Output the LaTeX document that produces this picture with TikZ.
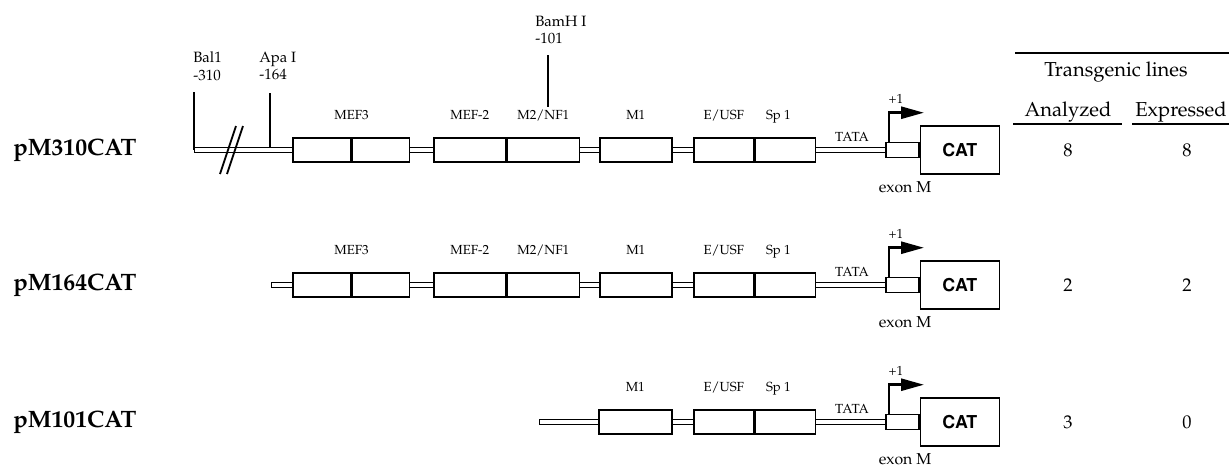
\documentclass[tikz,border=0pt]{standalone}
\usepackage[T1]{fontenc}
\usepackage{mathpazo}
\usepackage[scaled=0.92]{helvet}
\usetikzlibrary{arrows.meta,positioning}

\tikzset{
  site/.style={draw, fill=white, line width=0.9pt, anchor=west, inner sep=0pt,
    minimum height=0.48cm, minimum width=#1},
  exonbox/.style={draw, fill=white, line width=0.9pt, anchor=west, inner sep=0pt,
    minimum height=0.3cm, minimum width=0.66cm},
  catbox/.style={draw, fill=white, line width=0.9pt, anchor=west, inner sep=0pt,
    minimum height=0.96cm, minimum width=1.58cm,
    font=\fontsize{11}{12}\selectfont\sffamily\bfseries},
  strand/.style={draw, fill=white, line width=0.55pt},
  cut/.style={line width=1pt},
  rule/.style={line width=0.8pt},
  sitename/.style={font=\fontsize{7.5}{8}\selectfont, inner sep=0pt,
    text height=1.6ex, text depth=0.4ex},
  note/.style={font=\fontsize{9}{10}\selectfont, inner sep=0pt},
  enzyme/.style={font=\fontsize{8.5}{10}\selectfont, align=left, anchor=west, inner sep=0pt},
  construct/.style={font=\fontsize{13.5}{15}\selectfont\bfseries, anchor=west, inner sep=0pt},
  tablehead/.style={font=\fontsize{11.5}{13}\selectfont, inner sep=0pt},
  count/.style={font=\fontsize{10.5}{12}\selectfont, inner sep=0pt},
  tss/.style={line width=1.5pt, -{Triangle[length=0.46cm,width=0.24cm]}},
}

\begin{document}
\begin{tikzpicture}[x=0.02cm, y=-0.02cm]
  \useasboundingbox (0,0) rectangle (1229,467);

  %% constructs: strand, promoter, exon and reporter
  \foreach \k/\y/\sx/\bp/\na/\ne in {1/150/194/310/8/8, 2/285/271/164/2/2, 3/422/539/101/3/0}{
    \node[construct] (name\k) at (13,\y) {pM\bp CAT};
    \coordinate (s\k) at (\sx,\y);
    \coordinate (e\k) at (885,\y);
    \draw[strand] ([yshift=0.05cm]s\k) rectangle ([yshift=-0.05cm]e\k);
    \node[exonbox] (exon\k) at (e\k) {};
    \node[catbox] (cat\k) at (exon\k.east) {CAT};
    \node[sitename] (tata\k) at (852,\y-13) {TATA};
    \node[sitename] (plus\k) at (896,\y-51) {+1};
    \node[note] (exname\k) at (905,\y+37) {exon M};
    \draw[tss] ([xshift=0.08cm]exon\k.north west) -- ++(0,-29) -- ++(35,0);
    \node[count] (an\k) at (1068,\y) {\na};
    \node[count] (ex\k) at (1187,\y) {\ne};
  }

  %% binding sites, pM310CAT
  \node[site=1.16cm] (mefa1) at (292,150) {};
  \node[site=1.14cm] (mefb1) at (mefa1.east) {};
  \node[site=1.44cm] (mef21) at (433,150) {};
  \node[site=1.44cm] (nf11) at (mef21.east) {};
  \node[site=1.44cm] (m11) at (599,150) {};
  \node[site=1.2cm] (usf1) at (693,150) {};
  \node[site=1.2cm] (sp11) at (usf1.east) {};

  %% binding sites, pM164CAT
  \node[site=1.16cm] (mefa2) at (292,285) {};
  \node[site=1.14cm] (mefb2) at (mefa2.east) {};
  \node[site=1.44cm] (mef22) at (433,285) {};
  \node[site=1.44cm] (nf12) at (mef22.east) {};
  \node[site=1.44cm] (m12) at (599,285) {};
  \node[site=1.2cm] (usf2) at (693,285) {};
  \node[site=1.2cm] (sp12) at (usf2.east) {};

  %% binding sites, pM101CAT
  \node[site=1.46cm] (m13) at (598,422) {};
  \node[site=1.2cm] (usf3) at (693,422) {};
  \node[site=1.2cm] (sp13) at (usf3.east) {};

  %% site names
  \foreach \k in {1,2}{
    \node[sitename, above=0.28cm of mefa\k.north east] {MEF3};
    \node[sitename, above=0.28cm of mef2\k] {MEF-2};
    \node[sitename, above=0.28cm of nf1\k] {M2/NF1};
  }
  \foreach \k in {1,2,3}{
    \node[sitename, above=0.28cm of m1\k] {M1};
    \node[sitename, above=0.28cm of usf\k] {E/USF};
    \node[sitename, above=0.28cm of sp1\k, xshift=-0.14cm] {Sp 1};
  }

  %% restriction sites
  \node[enzyme] (bal) at (193,66) {Bal1\\-310};
  \node[enzyme] (apa) at (259,66) {Apa I\\-164};
  \node[enzyme] (bam) at (535,30) {BamH I\\-101};
  \coordinate (balcut) at (194,92);
  \coordinate (apacut) at (270,93);
  \coordinate (apaend) at (270,147.5);
  \coordinate (bamtop) at (548,55);
  \coordinate (bambot) at (548,107);
  \draw[cut] (balcut) -- (s1);
  \draw[cut] (apacut) -- (apaend);
  \draw[cut] (bamtop) -- (bambot);
  \draw[cut] (220,174) -- (236,126) (227,174) -- (243,126);

  %% table
  \node[tablehead] (tg) at (1116,72) {Transgenic lines};
  \node[tablehead] (anh) at (1068,112) {Analyzed};
  \node[tablehead] (exh) at (1181,112) {Expressed};
  \draw[rule] (1015,53) -- (1229,53);
  \draw[rule] (1013,124) -- (1122,124);
  \draw[rule] (1132,124) -- (1229,124);

\end{tikzpicture}
\end{document}
